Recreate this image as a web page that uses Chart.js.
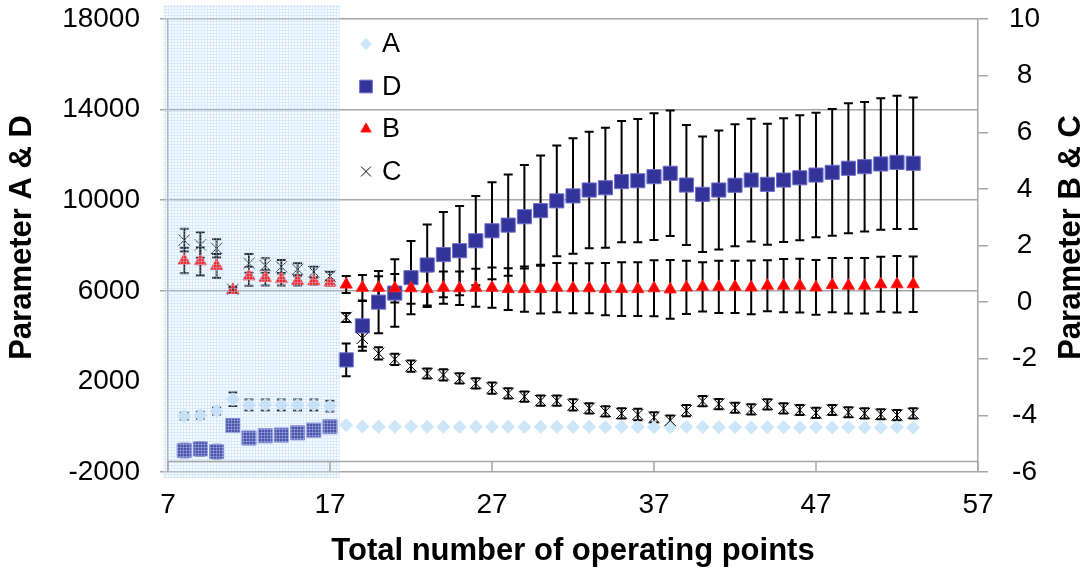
<!DOCTYPE html>
<html>
<head>
<meta charset="utf-8">
<script src="https://cdn.jsdelivr.net/npm/chart.js@4.4.1/dist/chart.umd.min.js"></script>
<style>
  html, body { margin: 0; padding: 0; background: #fff; }
  #wrap { width: 1092px; height: 574px; }
</style>
</head>
<body>
<div id="wrap"><canvas id="chart"></canvas></div>
<script>
// operating points on the x axis
const points = [8, 9, 10, 11, 12, 13, 14, 15, 16, 17, 18, 19, 20, 21, 22, 23, 24, 25, 26, 27, 28, 29, 30,
  31, 32, 33, 34, 35, 36, 37, 38, 39, 40, 41, 42, 43, 44, 45, 46, 47, 48, 49, 50, 51, 52, 53];

// left axis series
const seriesA = [470, 510, 690, 1210, 960, 960, 960, 960, 960, 910, 75, 10, 0, 0, 10, 0, 0, -10, 0, 0, 0, -10, 0,
  0, -10, 0, -20, 0, -10, -20, -20, 0, -10, -20, -20, -30, -20, -20, -30, -20, -30, -20, -30, -30, -20, -30];
const errA = [150, 150, 150, 300, 240, 240, 240, 240, 240, 240, 0, 0, 0, 0, 0, 0, 0, 0, 0, 0, 0, 0, 0,
  0, 0, 0, 0, 0, 0, 0, 0, 0, 0, 0, 0, 0, 0, 0, 0, 0, 0, 0, 0, 0, 0, 0];

const seriesD = [-1050, -980, -1100, 50, -500, -400, -370, -270, -150, 0, 2950, 4450, 5500, 5900, 6580, 7140,
  7600, 7770, 8210, 8650, 8900, 9270, 9540, 9970, 10190, 10450, 10550, 10820, 10860, 11040, 11190, 10670,
  10260, 10450, 10660, 10890, 10700, 10890, 10990, 11110, 11230, 11410, 11480, 11600, 11670, 11630];
const errD = [300, 300, 300, 100, 100, 100, 100, 100, 100, 100, 720, 1100, 1370, 1490, 1620, 1790, 1880,
  1970, 1970, 2140, 2240, 2280, 2430, 2440, 2550, 2570, 2650, 2680, 2720, 2800, 2770, 2650, 2550, 2630,
  2690, 2710, 2670, 2730, 2760, 2750, 2800, 2870, 2860, 2900, 2940, 2900];

// right axis series
const seriesB = [1.47, 1.44, 1.28, 0.43, 0.91, 0.86, 0.81, 0.75, 0.74, 0.69, 0.62, 0.51, 0.51, 0.49, 0.49,
  0.46, 0.51, 0.49, 0.51, 0.51, 0.46, 0.46, 0.46, 0.51, 0.49, 0.49, 0.46, 0.46, 0.46, 0.49, 0.45, 0.52,
  0.54, 0.54, 0.54, 0.52, 0.58, 0.58, 0.58, 0.52, 0.6, 0.58, 0.58, 0.63, 0.63, 0.63];
const errB = [0.45, 0.5, 0.42, 0.08, 0.33, 0.27, 0.22, 0.16, 0.13, 0.1, 0.3, 0.45, 0.4, 0.5, 0.55, 0.63,
  0.57, 0.59, 0.67, 0.71, 0.74, 0.8, 0.86, 0.87, 0.88, 0.88, 0.92, 0.95, 0.95, 0.99, 1.04, 0.94, 0.87,
  0.92, 0.92, 0.95, 0.9, 0.94, 0.95, 0.97, 0.96, 0.98, 0.98, 0.97, 1.0, 0.98];

const seriesC = [2.19, 2.02, 1.9, 0.45, 1.37, 1.29, 1.25, 1.16, 1.07, 0.92, -0.54, -1.28, -1.81, -2.02,
  -2.26, -2.52, -2.57, -2.69, -2.87, -3.04, -3.22, -3.34, -3.48, -3.48, -3.63, -3.75, -3.86, -3.93, -3.97,
  -4.07, -4.18, -3.83, -3.5, -3.6, -3.73, -3.79, -3.61, -3.75, -3.81, -3.91, -3.81, -3.89, -3.93, -3.96,
  -3.99, -3.93];
const errC = [0.4, 0.45, 0.32, 0.1, 0.33, 0.26, 0.24, 0.21, 0.18, 0.15, 0.16, 0.3, 0.22, 0.2, 0.2, 0.18,
  0.2, 0.18, 0.18, 0.2, 0.18, 0.18, 0.18, 0.18, 0.2, 0.18, 0.18, 0.18, 0.2, 0.18, 0.18, 0.2, 0.18, 0.18,
  0.18, 0.18, 0.18, 0.18, 0.18, 0.18, 0.18, 0.18, 0.18, 0.18, 0.18, 0.18];

const xTicks = [7, 17, 27, 37, 47, 57];
const shadeFrom = 6.7, shadeTo = 17.6;   // highlighted low-count range
const xAxisCross = -1500;               // left-axis value where the x axis is drawn

const FONT = 'Liberation Sans, Arial, sans-serif';
const GRID = '#a6a6a6';

const xy = ys => points.map((x, i) => ({ x: x, y: ys[i] }));

// vertical error bars, drawn under the markers
const errorBars = {
  id: 'errorBars',
  beforeDatasetsDraw(chart) {
    const ctx = chart.ctx;
    const xs = chart.scales.x;
    ctx.save();
    ctx.strokeStyle = '#000';
    ctx.lineWidth = 2;
    chart.data.datasets.forEach(ds => {
      const ys = chart.scales[ds.yAxisID];
      ds.data.forEach((p, j) => {
        const e = ds.errors[j];
        if (!e) return;
        const px = xs.getPixelForValue(p.x);
        const top = ys.getPixelForValue(p.y + e);
        const bot = ys.getPixelForValue(p.y - e);
        ctx.beginPath();
        ctx.moveTo(px, top); ctx.lineTo(px, bot);
        ctx.moveTo(px - 4.5, top); ctx.lineTo(px + 4.5, top);
        ctx.moveTo(px - 4.5, bot); ctx.lineTo(px + 4.5, bot);
        ctx.stroke();
      });
    });
    ctx.restore();
  }
};

function sideTitle(ctx, text, x, y) {
  ctx.save();
  ctx.font = 'bold 31px ' + FONT;
  ctx.fillStyle = '#000';
  ctx.textAlign = 'center';
  ctx.textBaseline = 'middle';
  ctx.translate(x, y);
  ctx.rotate(-Math.PI / 2);
  ctx.fillText(text, 0, 0);
  ctx.restore();
}

// dotted light blue band, x axis line, legend and both y titles
const extras = {
  id: 'extras',
  afterDatasetsDraw(chart) {
    const ctx = chart.ctx;
    const xs = chart.scales.x, yL = chart.scales.yL;
    const area = chart.chartArea;

    // band texture
    const tile = document.createElement('canvas');
    tile.width = 3; tile.height = 3;
    const t = tile.getContext('2d');
    t.fillStyle = 'rgba(210,230,250,0.18)';
    t.fillRect(0, 0, 3, 3);
    t.fillStyle = 'rgba(175,212,245,0.38)';
    t.fillRect(0, 0, 3, 1);
    t.fillRect(0, 0, 1, 3);
    const x0 = xs.getPixelForValue(shadeFrom), x1 = xs.getPixelForValue(shadeTo);
    ctx.save();
    ctx.fillStyle = ctx.createPattern(tile, 'repeat');
    ctx.fillRect(x0, area.top - 14, x1 - x0, area.bottom - area.top + 20);
    ctx.restore();

    // x axis line with downward ticks
    const ay = Math.round(yL.getPixelForValue(xAxisCross)) + 0.5;
    ctx.save();
    ctx.strokeStyle = GRID;
    ctx.lineWidth = 1.5;
    ctx.beginPath();
    ctx.moveTo(area.left, ay); ctx.lineTo(area.right, ay);
    xTicks.forEach(v => {
      const px = xs.getPixelForValue(v);
      ctx.moveTo(px, ay); ctx.lineTo(px, ay + 10);
    });
    ctx.stroke();
    ctx.restore();

    // legend
    ctx.save();
    ctx.font = '27px ' + FONT;
    ctx.textBaseline = 'middle';
    ctx.fillStyle = '#000';
    chart.data.datasets.forEach((ds, k) => {
      const ly = 44 + k * 42.5;
      ctx.save();
      ctx.fillStyle = ds.backgroundColor;
      ctx.strokeStyle = ds.borderColor;
      ctx.lineWidth = ds.borderWidth;
      Chart.helpers.drawPoint(ctx, { pointStyle: ds.pointStyle, radius: ds.legendRadius, rotation: 0, borderWidth: ds.borderWidth }, 366, ly);
      ctx.restore();
      ctx.fillText(ds.label, 382, ly + 1);
    });
    ctx.restore();

    // y titles, both reading bottom to top
    const midY = (area.top + area.bottom) / 2 - 8;
    sideTitle(ctx, 'Parameter A & D', 22, midY);
    sideTitle(ctx, 'Parameter B & C', 1071, midY);
  }
};

// fixed box sizes so the plot area sits where the axes expect it
const fitLeft = s => { s.width = 168; s.paddingTop = 0; s.paddingBottom = 0; };
const fitRight = s => { s.width = 114; s.paddingTop = 0; s.paddingBottom = 0; };

new Chart(document.getElementById('chart'), {
  type: 'scatter',
  data: {
    datasets: [
      {
        label: 'A', data: xy(seriesA), errors: errA, yAxisID: 'yL', order: 3,
        pointStyle: 'rectRot', pointRadius: 7, legendRadius: 6,
        backgroundColor: '#cde6f9', borderColor: '#cde6f9', borderWidth: 0
      },
      {
        label: 'D', data: xy(seriesD), errors: errD, yAxisID: 'yL', order: 2,
        pointStyle: 'rect', pointRadius: 10, legendRadius: 9,
        backgroundColor: '#333399', borderColor: '#7070cc', borderWidth: 1
      },
      {
        label: 'B', data: xy(seriesB), errors: errB, yAxisID: 'yR', order: 1,
        pointStyle: 'triangle', pointRadius: 7, legendRadius: 6,
        backgroundColor: '#ff0000', borderColor: '#ff2020', borderWidth: 1
      },
      {
        label: 'C', data: xy(seriesC), errors: errC, yAxisID: 'yR', order: 0,
        pointStyle: 'crossRot', pointRadius: 8, legendRadius: 7,
        backgroundColor: '#000', borderColor: '#000', borderWidth: 1
      }
    ]
  },
  options: {
    responsive: true,
    maintainAspectRatio: false,
    animation: false,
    layout: { padding: { top: 19, left: 0, right: 0, bottom: 0 } },
    plugins: { legend: { display: false }, tooltip: { enabled: false } },
    scales: {
      x: {
        type: 'linear', min: 7, max: 57,
        afterBuildTicks: s => { s.ticks = xTicks.map(v => ({ value: v })); },
        ticks: { font: { family: FONT, size: 28 }, color: '#000', padding: 16 },
        grid: { display: false, drawTicks: false },
        border: { display: false },
        title: {
          display: true, text: 'Total number of operating points', color: '#000',
          font: { family: FONT, size: 31, weight: 'bold' }, padding: { top: 0, bottom: 4 }
        },
        afterFit: s => { s.height = 102; }
      },
      yL: {
        position: 'left', min: -2000, max: 18000,
        ticks: { stepSize: 4000, font: { family: FONT, size: 28 }, color: '#000', padding: 20, callback: v => String(v) },
        grid: {
          color: c => (c.tick && c.tick.value === 2000) ? 'rgba(0,0,0,0)' : GRID,
          lineWidth: 1.5, tickLength: 8
        },
        border: { display: true, color: GRID, width: 1.5 },
        afterFit: fitLeft
      },
      yR: {
        position: 'right', min: -6, max: 10,
        ticks: { stepSize: 2, font: { family: FONT, size: 28 }, color: '#000', padding: 21, crossAlign: 'center' },
        grid: { drawOnChartArea: false, color: GRID, lineWidth: 1.5, tickLength: 10 },
        border: { display: true, color: GRID, width: 1.5 },
        afterFit: fitRight
      }
    }
  },
  plugins: [errorBars, extras]
});
</script>
</body>
</html>
